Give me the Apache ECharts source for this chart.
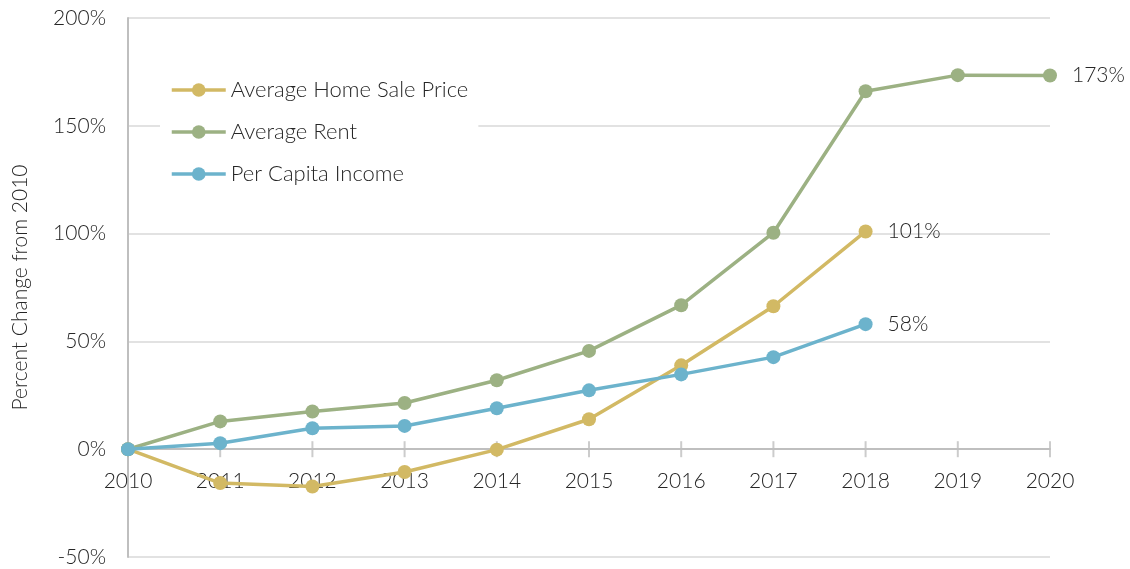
<!DOCTYPE html>
<html>
<head>
<meta charset="utf-8">
<script src="https://cdn.jsdelivr.net/npm/echarts@6/dist/echarts.min.js"></script>
<style>
  html, body { margin: 0; padding: 0; background: #fff; }
  #chart { width: 1130px; height: 569px; }
</style>
</head>
<body>
<div id="chart"></div>
<script>
var years = ['2010', '2011', '2012', '2013', '2014', '2015', '2016', '2017', '2018', '2019', '2020'];
var homePrice = [0, -15.7, -17.3, -10.6, -0.2, 13.9, 38.9, 66.3, 101, null, null];
var rent = [0, 12.9, 17.5, 21.4, 32, 45.6, 66.8, 100.4, 166, 173.5, 173.3];
var income = [0, 2.8, 9.7, 10.8, 19, 27.3, 34.7, 42.7, 58, null, null];

var fontFam = 'Lato';
var textColor = '#262626';

// only the last real point gets a value label
function withEndLabel(arr) {
    var last = -1;
    for (var i = 0; i < arr.length; i++) {
        if (arr[i] !== null) last = i;
    }
    return arr.map(function (v, i) {
        if (i === last) {
            return { value: v, label: { show: true } };
        }
        return v;
    });
}

function makeSeries(name, arr, color) {
    return {
        name: name,
        type: 'line',
        data: withEndLabel(arr),
        symbol: 'circle',
        symbolSize: 14,
        showSymbol: true,
        lineStyle: { width: 3.5, color: color },
        itemStyle: { color: color },
        label: {
            show: false,
            position: 'right',
            distance: 15,
            fontFamily: fontFam,
            fontWeight: 300,
            fontSize: 21,
            color: textColor,
            formatter: function (p) { return Math.round(p.value) + '%'; }
        },
        emphasis: { disabled: true },
        z: 3,
        animation: false
    };
}

var myChart = echarts.init(document.getElementById('chart'));
var option = {
    backgroundColor: '#fff',
    grid: { left: 128, right: 80, top: 18, bottom: 12, containLabel: false, outerBoundsMode: 'none' },
    legend: {
        orient: 'vertical',
        left: 160,
        top: 71,
        itemWidth: 54,
        itemHeight: 17,
        itemGap: 20,
        backgroundColor: '#fff',
        padding: [8, 10, 8, 10],
        lineStyle: { width: 3.5 },
        textStyle: { fontFamily: fontFam, fontWeight: 300, fontSize: 22, color: textColor },
        data: ['Average Home Sale Price', 'Average Rent', 'Per Capita Income']
    },
    xAxis: {
        type: 'category',
        data: years,
        boundaryGap: false,
        axisLine: { onZero: true, lineStyle: { color: '#bfbfbf', width: 2 } },
        axisTick: { show: false },
        // labels stay at the grid bottom, pull them up under the zero line
        axisLabel: { fontFamily: fontFam, fontWeight: 300, fontSize: 21, color: textColor, margin: -86 },
        splitLine: { show: false }
    },
    yAxis: {
        type: 'value',
        min: -50,
        max: 200,
        interval: 50,
        name: 'Percent Change from 2010',
        nameLocation: 'middle',
        nameGap: 97,
        nameTextStyle: { fontFamily: fontFam, fontWeight: 300, fontSize: 21, color: textColor },
        axisLine: { show: true, lineStyle: { color: '#bfbfbf', width: 2 } },
        axisTick: { show: false },
        axisLabel: {
            fontFamily: fontFam, fontWeight: 300, fontSize: 21, color: textColor, margin: 22,
            formatter: function (v) { return v + '%'; }
        },
        splitLine: { lineStyle: { color: '#d9d9d9', width: 1.5 } }
    },
    series: [
        {
            // cross tick marks on the zero line
            name: 'ticks',
            type: 'scatter',
            data: years.map(function (y) { return [y, 0]; }),
            symbol: 'rect',
            symbolSize: [2, 16],
            itemStyle: { color: '#bfbfbf' },
            silent: true,
            z: 1,
            animation: false
        },
        makeSeries('Average Home Sale Price', homePrice, '#d2b964'),
        makeSeries('Average Rent', rent, '#9cb183'),
        makeSeries('Per Capita Income', income, '#6cb3cc')
    ]
};
myChart.setOption(option);
window.addEventListener('resize', function () {
    myChart.resize();
});
</script>
</body>
</html>
